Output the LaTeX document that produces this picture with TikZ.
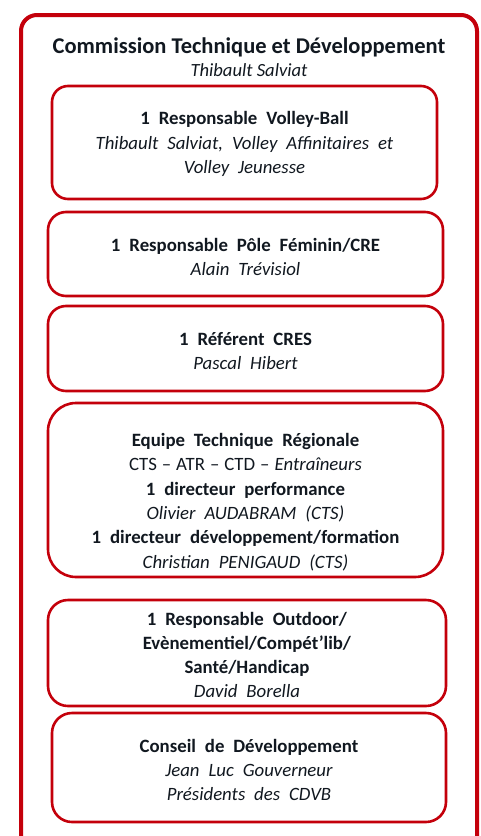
\documentclass[tikz,border=0pt]{standalone}
\usepackage{fontspec}
\setmainfont{Carlito}[WordSpace={2.1,1,1}]
\newfontfamily\titlefont{Carlito}
\definecolor{boxred}{HTML}{C4000B}
\definecolor{txt}{HTML}{111820}
\begin{document}
\begin{tikzpicture}[x=1pt,y=-1pt,
  outerbox/.style={draw=boxred,line width=4pt,rounded corners=16pt},
  innerbox/.style={draw=boxred,line width=2.6pt,rounded corners=#1,inner sep=0pt},
  lbl/.style={align=center,text=txt,inner sep=0pt,font=\fontsize{18.8}{24.3}\selectfont}
]
\useasboundingbox (0,0) rectangle (480,836);
\clip (0,0) rectangle (480,836);
\fill[white] (0,0) rectangle (480,836);
\draw[outerbox] (21,15) rectangle (477,870);
% title
\node[lbl,font=\titlefont\fontsize{22.5}{23}\selectfont] (title) at (249,57)
  {\textbf{Commission Technique et Développement}\\
   {\fontsize{18.6}{23}\selectfont\itshape Thibault Salviat}};
% boxes
\draw[innerbox=16pt] (52,86) rectangle (437,199);
\node[lbl] (b1) at (244.5,144) {\textbf{1 Responsable Volley-Ball}\\
  \textit{Thibault Salviat, Volley Affinitaires et}\\ \textit{Volley Jeunesse}};
\draw[innerbox=18pt] (48,212) rectangle (443,296);
\node[lbl] (b2) at (245.5,257) {\textbf{1 Responsable Pôle Féminin/CRE}\\ \textit{Alain Trévisiol}};
\draw[innerbox=18pt] (48,306) rectangle (443,391);
\node[lbl] (b3) at (245.5,351) {\textbf{1 Référent CRES}\\ \textit{Pascal Hibert}};
\draw[innerbox=28pt] (48,403) rectangle (443,577);
\node[lbl] (b4) at (245.5,502) {\textbf{Equipe Technique Régionale}\\
  CTS\hspace{5pt}--\hspace{5pt}ATR\hspace{5pt}--\hspace{5pt}CTD\hspace{5pt}--\hspace{5pt}\textit{Entraîneurs}\\
  \textbf{1 directeur performance}\\
  \textit{Olivier AUDABRAM (CTS)}\\
  \textbf{1 directeur développement/formation}\\
  \textit{Christian PENIGAUD (CTS)}};
\draw[innerbox=20pt] (48,600) rectangle (446,706);
\node[lbl] (b5) at (247,655) {\textbf{1 Responsable Outdoor/}\\
  \textbf{Evènementiel/Compét'lib/}\\ \textbf{Santé/Handicap}\\ \textit{David Borella}};
\draw[innerbox=20pt] (52,713) rectangle (446,822);
\node[lbl] (b6) at (249,770) {\textbf{Conseil de Développement}\\
  \textit{Jean Luc Gouverneur}\\ \textit{Présidents des CDVB}};
\end{tikzpicture}
\end{document}
